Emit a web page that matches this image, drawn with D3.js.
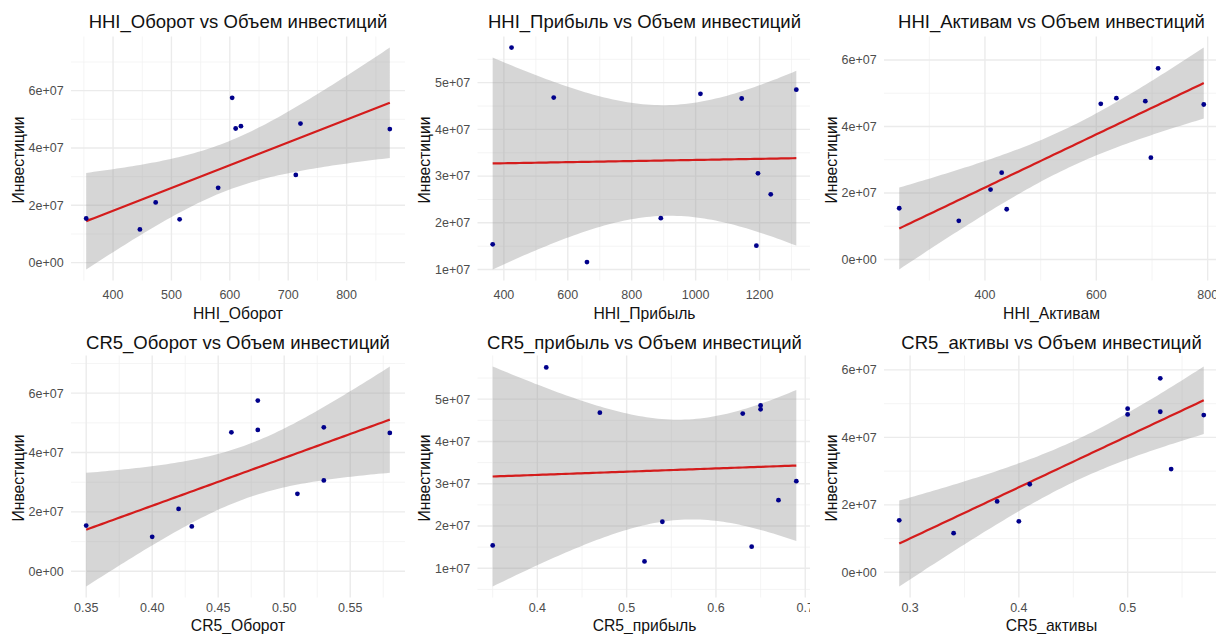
<!DOCTYPE html>
<html lang="ru">
<head>
<meta charset="UTF-8">
<script src="https://cdnjs.cloudflare.com/ajax/libs/d3/7.8.5/d3.min.js"></script>
<title>Инвестиции vs концентрация</title>
<style>
  body { margin:0; background:#fff; }
  svg { display:block; font-family:"Liberation Sans", Arial, sans-serif; }
  .grid-major { stroke:#ebebeb; stroke-width:1.4; fill:none; }
  .grid-minor { stroke:#f1f1f1; stroke-width:0.8; fill:none; }
  .band { fill:#999; fill-opacity:0.4; stroke:none; }
  .fit { fill:none; stroke:#d41c1c; stroke-width:2.2; }
  .pt { fill:#00008b; }
  .tick { fill:#4d4d4d; font-size:12.5px; }
  .axis-title { fill:#111; font-size:15.7px; }
  .plot-title { fill:#111; font-size:18.5px; }
</style>
</head>
<body>
<svg id="chart" width="1216" height="634"></svg>
<script>
  // Инвестиции - same 11 observations in every panel
  var invest = [57.5e6, 48.5e6, 47.6e6, 46.8e6, 46.6e6, 30.6e6, 26.1e6, 21.0e6, 15.4e6, 15.1e6, 11.6e6];

  // concentration indices, same order as invest
  var hhiTurnover = [604, 721, 619, 610, 874, 713, 580, 473, 354, 514, 446];
  var hhiProfit   = [424, 1315, 1015, 556, 1144, 1195, 1235, 891, 365, 1190, 660];
  var hhiAssets   = [711, 636, 688, 608, 793, 698, 430, 410, 246, 439, 353];
  var cr5Turnover = [0.48, 0.53, 0.48, 0.46, 0.58, 0.53, 0.51, 0.42, 0.35, 0.43, 0.40];
  var cr5Profit   = [0.41, 0.65, 0.65, 0.47, 0.63, 0.69, 0.67, 0.54, 0.35, 0.64, 0.52];
  var cr5Assets   = [0.53, 0.50, 0.53, 0.50, 0.57, 0.54, 0.41, 0.38, 0.29, 0.40, 0.34];

  var panelVars = ["HHI_Оборот", "HHI_Прибыль", "HHI_Активам", "CR5_Оборот", "CR5_прибыль", "CR5_активы"];
  var panelX = [hhiTurnover, hhiProfit, hhiAssets, cr5Turnover, cr5Profit, cr5Assets];
  var xTickSets = [
    [400, 500, 600, 700, 800],
    [400, 600, 800, 1000, 1200],
    [400, 600, 800],
    [0.35, 0.40, 0.45, 0.50, 0.55],
    [0.4, 0.5, 0.6, 0.7],
    [0.3, 0.4, 0.5]
  ];
  var yTickSets = [
    [0, 2e7, 4e7, 6e7],
    [1e7, 2e7, 3e7, 4e7, 5e7],
    [0, 2e7, 4e7, 6e7],
    [0, 2e7, 4e7, 6e7],
    [1e7, 2e7, 3e7, 4e7, 5e7],
    [0, 2e7, 4e7, 6e7]
  ];
  var xFormats = ["d", "d", "d", ".2f", ".1f", ".1f"];
  var titleSuffix = " vs Объем инвестиций";
  var yTitle = "Инвестиции";

  // layout of the 2x3 grid (each cell is one ggplot image)
  var cellX = [0, 405, 810], cellW = [405, 405, 406];
  var cellY = [0, 324], cellH = [324, 310];
  var plotLeft = [71, 477.5, 884], plotW = [334, 334, 335];
  var plotTop = [36.5, 355.5], plotH = [244, 242];
  var titleBase = [28, 349];
  // bottom row sits at the page edge, so its axis texts are tighter
  var xTickGap = [18.7, 14.5];
  var xTitleGap = [38.5, 33];

  var svg = d3.select("#chart");

  // ggplot-like scientific labels: 6e+07
  function sci(v) {
    var s = v.toExponential(0).split("e");
    var e = parseInt(s[1], 10);
    return s[0] + "e" + (e < 0 ? "-" : "+") + (Math.abs(e) < 10 ? "0" : "") + Math.abs(e);
  }

  // lm fit + 95% band (geom_smooth(method = "lm"))
  function lmBand(xs, ys) {
    var n = xs.length, mx = d3.mean(xs), my = d3.mean(ys);
    var sxx = d3.sum(xs, function(x) { return (x - mx) * (x - mx); });
    var sxy = d3.sum(xs, function(x, i) { return (x - mx) * (ys[i] - my); });
    var b = sxy / sxx, a = my - b * mx;
    var sse = d3.sum(xs, function(x, i) { var r = ys[i] - (a + b * x); return r * r; });
    var s = Math.sqrt(sse / (n - 2));
    var t = 2.262157; // qt(0.975, df = 9)
    var ext = d3.extent(xs);
    return d3.range(80).map(function(k) {
      var x = ext[0] + (ext[1] - ext[0]) * k / 79;
      var f = a + b * x;
      var se = s * Math.sqrt(1 / n + (x - mx) * (x - mx) / sxx);
      return { x: x, y: f, lo: f - t * se, hi: f + t * se };
    });
  }

  function minorBreaks(ticks, domain) {
    var step = ticks[1] - ticks[0], out = [];
    for (var i = -1; i < ticks.length; i++) {
      var m = ticks[0] + step * (i + 0.5);
      if (m >= domain[0] && m <= domain[1]) out.push(m);
    }
    return out;
  }

  panelVars.forEach(function(name, p) {
    var col = p % 3, row = Math.floor(p / 3);
    var xs = panelX[p], ys = invest;
    var band = lmBand(xs, ys);

    var xe = d3.extent(xs), xpad = (xe[1] - xe[0]) * 0.05;
    var ylo = Math.min(d3.min(ys), d3.min(band, function(d) { return d.lo; }));
    var yhi = Math.max(d3.max(ys), d3.max(band, function(d) { return d.hi; }));
    var ypad = (yhi - ylo) * 0.05;

    var L = plotLeft[col], T = plotTop[row], W = plotW[col], H = plotH[row];
    var x = d3.scaleLinear().domain([xe[0] - xpad, xe[1] + xpad]).range([L, L + W]);
    var y = d3.scaleLinear().domain([ylo - ypad, yhi + ypad]).range([T + H, T]);

    var clipId = "cell" + p;
    svg.append("clipPath").attr("id", clipId)
      .append("rect")
      .attr("x", cellX[col]).attr("y", cellY[row])
      .attr("width", cellW[col]).attr("height", cellH[row]);

    var g = svg.append("g").attr("clip-path", "url(#" + clipId + ")");

    var xt = xTickSets[p], yt = yTickSets[p];

    // grid
    g.selectAll(".vminor").data(minorBreaks(xt, x.domain())).join("line")
      .attr("class", "grid-minor")
      .attr("x1", x).attr("x2", x).attr("y1", T).attr("y2", T + H);
    g.selectAll(".hminor").data(minorBreaks(yt, y.domain())).join("line")
      .attr("class", "grid-minor")
      .attr("x1", L).attr("x2", L + W).attr("y1", y).attr("y2", y);
    g.selectAll(".vmajor").data(xt).join("line")
      .attr("class", "grid-major")
      .attr("x1", x).attr("x2", x).attr("y1", T).attr("y2", T + H);
    g.selectAll(".hmajor").data(yt).join("line")
      .attr("class", "grid-major")
      .attr("x1", L).attr("x2", L + W).attr("y1", y).attr("y2", y);

    // smooth
    g.append("path").datum(band).attr("class", "band")
      .attr("d", d3.area().x(function(d) { return x(d.x); })
        .y0(function(d) { return y(d.lo); }).y1(function(d) { return y(d.hi); }));
    g.append("path").datum(band).attr("class", "fit")
      .attr("d", d3.line().x(function(d) { return x(d.x); }).y(function(d) { return y(d.y); }));

    // points
    g.selectAll(".pt").data(xs).join("circle")
      .attr("class", "pt").attr("r", 2.4)
      .attr("cx", function(d) { return x(d); })
      .attr("cy", function(d, i) { return y(ys[i]); });

    // tick labels
    var fx = d3.format(xFormats[p]);
    g.selectAll(".xt").data(xt).join("text")
      .attr("class", "tick").attr("text-anchor", "middle")
      .attr("x", x).attr("y", T + H + xTickGap[row])
      .text(fx);
    g.selectAll(".yt").data(yt).join("text")
      .attr("class", "tick").attr("text-anchor", "end")
      .attr("x", L - 7.4).attr("y", y).attr("dy", "0.35em")
      .text(sci);

    // titles
    g.append("text").attr("class", "axis-title").attr("text-anchor", "middle")
      .attr("x", L + W / 2).attr("y", T + H + xTitleGap[row])
      .text(name);
    g.append("text").attr("class", "axis-title").attr("text-anchor", "middle")
      .attr("transform", "translate(" + (L - 53) + "," + (T + H / 2 + 1.5) + ") rotate(-90)")
      .attr("dy", "0.35em")
      .text(yTitle);
    g.append("text").attr("class", "plot-title").attr("text-anchor", "middle")
      .attr("x", L + W / 2).attr("y", titleBase[row])
      .text(name + titleSuffix);
  });
</script>
</body>
</html>
